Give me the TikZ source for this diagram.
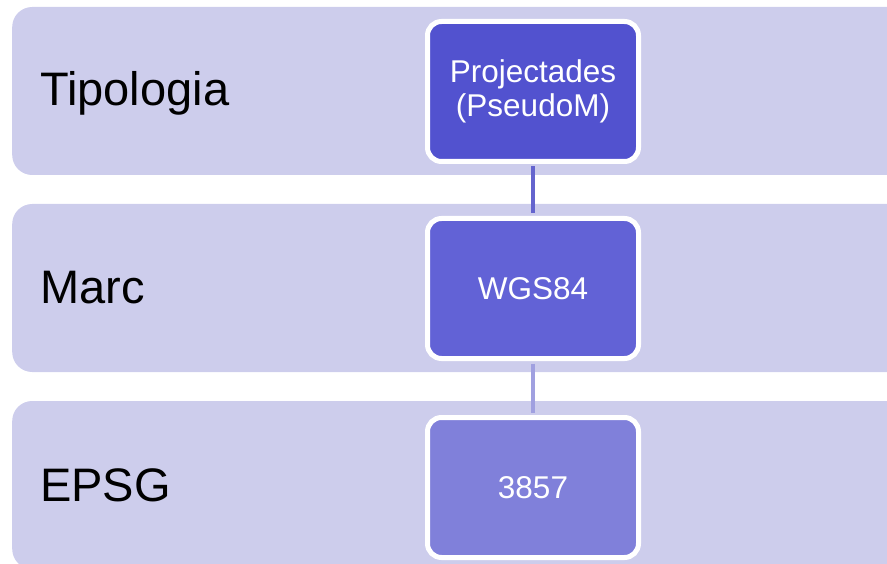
\documentclass[tikz,border=0pt]{standalone}
\usepackage{fontspec}
\setmainfont{Liberation Sans}
\usepackage{tikz}
\definecolor{bandfill}{RGB}{205,205,236}
\definecolor{topfill}{RGB}{82,82,207}
\definecolor{midfill}{RGB}{98,98,214}
\definecolor{lowfill}{RGB}{128,128,218}
\definecolor{toplink}{RGB}{100,100,206}
\definecolor{lowlink}{RGB}{160,160,224}
\tikzstyle{band} = [rectangle, rounded corners=20pt, fill=bandfill, minimum height=168pt, minimum width=900pt, anchor=west]
\tikzstyle{tag} = [anchor=base west, inner sep=0pt, font=\fontsize{47}{50}\selectfont]
\tikzstyle{level} = [rectangle, rounded corners=14pt, draw=white, line width=5pt, minimum width=211pt, minimum height=140pt, text=white, align=center, font=\fontsize{31.5}{34}\selectfont]
\tikzstyle{link} = [line width=4.5pt, shorten <=2.5pt, shorten >=2.5pt]

\begin{document}
\begin{tikzpicture}[x=1pt, y=-1pt]
  \useasboundingbox (0,0) rectangle (887,564);
  \clip (0,0) rectangle (887,564);

  % bands
  \node (tipband) [band] at (12,91) {};
  \node (marcband) [band] at (12,288) {};
  \node (epsgband) [band] at (12,485) {};

  \node (tip) [tag] at (40,106) {Tipologia};
  \node (marc) [tag] at (40,304) {Marc};
  \node (epsg) [tag] at (40,501) {EPSG};

  % levels
  \node (proj) [level, fill=topfill] at (533,91.5) {Projectades\\(PseudoM)};
  \node (wgs) [level, fill=midfill] at (533,288.5) {WGS84};
  \node (code) [level, fill=lowfill] at (533,487.5) {3857};

  \draw [link, toplink] (proj) -- (wgs);
  \draw [link, lowlink] (wgs) -- (code);
\end{tikzpicture}
\end{document}
